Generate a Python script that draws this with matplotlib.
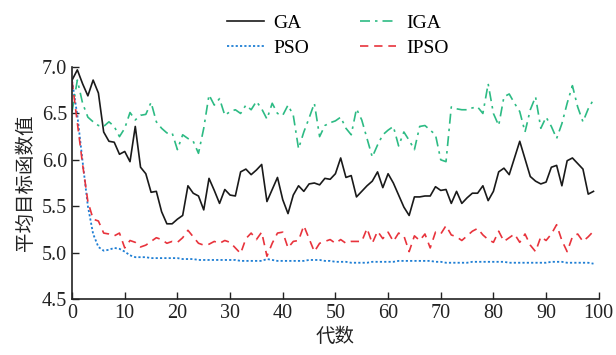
import numpy as np
import matplotlib
matplotlib.use("Agg")
import matplotlib.pyplot as plt

plt.rcParams['font.family'] = ['Liberation Serif', 'Noto Sans CJK SC', 'DejaVu Sans']
plt.rcParams['mathtext.fontset'] = 'stix'

generations = np.arange(0, 100)

ga = [6.86, 6.97, 6.82, 6.69, 6.86, 6.72, 6.30, 6.20, 6.19, 6.06,
      6.09, 5.98, 6.36, 5.92, 5.85, 5.65, 5.66, 5.44, 5.31, 5.31,
      5.36, 5.40, 5.72, 5.64, 5.61, 5.46, 5.80, 5.67, 5.53, 5.68,
      5.62, 5.61, 5.87, 5.90, 5.84, 5.89, 5.95, 5.55, 5.68, 5.81,
      5.57, 5.42, 5.62, 5.72, 5.66, 5.74, 5.75, 5.73, 5.80, 5.79,
      5.85, 6.02, 5.81, 5.83, 5.60, 5.66, 5.72, 5.77, 5.87, 5.70,
      5.85, 5.75, 5.62, 5.49, 5.40, 5.60, 5.60, 5.61, 5.61, 5.71,
      5.67, 5.68, 5.53, 5.66, 5.53, 5.59, 5.64, 5.64, 5.72, 5.56,
      5.66, 5.87, 5.91, 5.84, 6.02, 6.20, 6.01, 5.82, 5.77, 5.74,
      5.76, 5.92, 5.94, 5.72, 5.99, 6.02, 5.96, 5.90, 5.63, 5.66]

iga = [6.52, 6.86, 6.61, 6.46, 6.41, 6.37, 6.36, 6.41, 6.36, 6.25,
       6.34, 6.51, 6.43, 6.48, 6.49, 6.62, 6.41, 6.34, 6.29, 6.29,
       6.11, 6.27, 6.23, 6.20, 6.07, 6.34, 6.70, 6.59, 6.66, 6.48,
       6.52, 6.54, 6.50, 6.59, 6.54, 6.63, 6.55, 6.44, 6.61, 6.50,
       6.48, 6.59, 6.48, 6.12, 6.30, 6.45, 6.61, 6.25, 6.37, 6.40,
       6.42, 6.46, 6.34, 6.27, 6.55, 6.43, 6.23, 6.03, 6.16, 6.27,
       6.32, 6.36, 6.15, 6.30, 6.21, 6.11, 6.36, 6.37, 6.32, 6.27,
       6.00, 5.98, 6.57, 6.55, 6.54, 6.54, 6.56, 6.57, 6.50, 6.82,
       6.50, 6.37, 6.68, 6.71, 6.61, 6.52, 6.30, 6.54, 6.68, 6.34,
       6.46, 6.36, 6.23, 6.39, 6.61, 6.80, 6.57, 6.41, 6.55, 6.65]

pso = [6.85, 6.48, 5.98, 5.50, 5.20, 5.06, 5.02, 5.03, 5.05, 5.04,
       5.01, 4.97, 4.95, 4.95, 4.95, 4.94, 4.94, 4.94, 4.94, 4.94,
       4.94, 4.93, 4.93, 4.93, 4.92, 4.92, 4.92, 4.92, 4.92, 4.92,
       4.92, 4.92, 4.91, 4.91, 4.91, 4.91, 4.91, 4.93, 4.92, 4.91,
       4.91, 4.91, 4.91, 4.91, 4.91, 4.92, 4.92, 4.92, 4.91, 4.91,
       4.90, 4.90, 4.90, 4.89, 4.89, 4.89, 4.89, 4.90, 4.90, 4.90,
       4.90, 4.90, 4.91, 4.91, 4.91, 4.91, 4.91, 4.91, 4.91, 4.90,
       4.90, 4.89, 4.89, 4.89, 4.89, 4.89, 4.90, 4.90, 4.90, 4.90,
       4.90, 4.90, 4.90, 4.89, 4.89, 4.89, 4.89, 4.89, 4.89, 4.89,
       4.89, 4.90, 4.90, 4.90, 4.89, 4.89, 4.89, 4.89, 4.89, 4.88]

ipso = [6.85, 6.40, 5.95, 5.55, 5.36, 5.34, 5.21, 5.20, 5.18, 5.21,
        5.05, 5.13, 5.11, 5.06, 5.08, 5.12, 5.16, 5.14, 5.10, 5.12,
        5.11, 5.16, 5.24, 5.17, 5.10, 5.08, 5.09, 5.12, 5.10, 5.13,
        5.11, 5.05, 4.99, 5.15, 5.21, 5.14, 5.22, 4.96, 5.10, 5.21,
        5.22, 5.05, 5.12, 5.13, 5.29, 5.15, 5.01, 5.10, 5.12, 5.14,
        5.10, 5.14, 5.10, 5.12, 5.12, 5.12, 5.26, 5.10, 5.23, 5.15,
        5.22, 5.12, 5.21, 5.18, 5.01, 5.18, 5.13, 5.20, 5.05, 5.22,
        5.20, 5.29, 5.19, 5.17, 5.13, 5.18, 5.23, 5.26, 5.19, 5.14,
        5.11, 5.23, 5.12, 5.16, 5.20, 5.11, 5.20, 5.08, 5.01, 5.17,
        5.13, 5.20, 5.30, 5.13, 5.01, 5.17, 5.20, 5.12, 5.17, 5.23]

x_ticks = [0, 10, 20, 30, 40, 50, 60, 70, 80, 90, 100]
y_ticks = [4.5, 5.0, 5.5, 6.0, 6.5, 7.0]

fig = plt.figure(figsize=(6.16, 3.55), dpi=100)
ax = fig.add_axes([0.117, 0.158, 0.855, 0.653])

# Plot order gives column-wise legend: GA/PSO in first column, IGA/IPSO in second
ax.plot(generations, ga, color='#1a1a1a', lw=1.2, ls='-', label='GA')
ax.plot(generations, pso, color='#1f7fd4', lw=1.3, ls=(0, (1.2, 1.2)), label='PSO')
ax.plot(generations, iga, color='#2dbb84', lw=1.2, ls=(0, (6, 3, 1.5, 3)), label='IGA')
ax.plot(generations, ipso, color='#e8333c', lw=1.2, ls=(0, (5, 3.5)), label='IPSO')

ax.set_xlim(0, 100)
ax.set_ylim(4.5, 7.0)
ax.set_xticks(x_ticks)
ax.set_yticks(y_ticks)
ax.set_yticklabels([f'{v:.1f}' for v in y_ticks])
ax.tick_params(direction='in', length=5, width=1.0, labelsize=14.5, colors='#222222')
for side in ('top', 'right'):
    ax.spines[side].set_visible(False)
for side in ('left', 'bottom'):
    ax.spines[side].set_linewidth(1.2)
    ax.spines[side].set_color('#222222')

ax.set_xlabel('代数', fontsize=14, family=['Noto Sans CJK SC'], labelpad=2, color='#222222')
ax.set_ylabel('平均目标函数值', fontsize=14, family=['Noto Sans CJK SC'], labelpad=4, color='#222222')

handles, labels = ax.get_legend_handles_labels()
leg = fig.legend(handles, labels,
                 ncol=2, loc='center', bbox_to_anchor=(0.548, 0.9), frameon=False,
                 fontsize=14, handlelength=1.9, columnspacing=2.6, labelspacing=0.35,
                 handletextpad=0.5)

fig.savefig('out.png', dpi=100)
